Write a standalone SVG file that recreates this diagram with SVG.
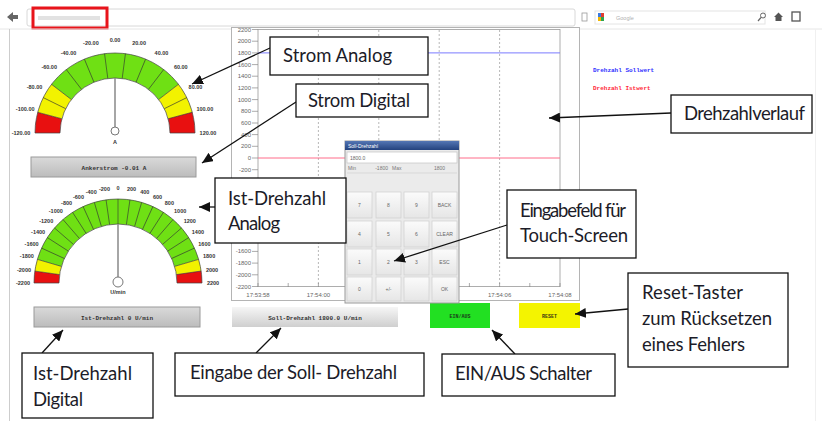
<svg xmlns="http://www.w3.org/2000/svg" width="822" height="421" viewBox="0 0 822 421">
<defs>
<style>
.cbox{fill:#fff;stroke:#111;stroke-width:1.3}
.ctxt{font-family:Lato,"Liberation Sans",sans-serif;font-size:18.5px;fill:#1c1c28}
.conn{stroke:#111;stroke-width:1.3;fill:none;marker-end:url(#ah)}
.glab{font-family:"Liberation Sans",Arial,sans-serif;font-size:5.5px;font-weight:bold;fill:#333;text-anchor:middle}
.div{stroke:#333;stroke-width:0.6}
.band{fill:none;stroke-width:25}
.gout{fill:none;stroke:#444;stroke-width:0.7}
.ylab{font-family:"Liberation Sans",Arial,sans-serif;font-size:6px;fill:#666;text-anchor:end}
.xlab{font-family:"Liberation Sans",Arial,sans-serif;font-size:6px;fill:#666;text-anchor:middle}
.mono{font-family:"Liberation Mono","DejaVu Sans Mono",monospace;font-size:6px;font-weight:bold;text-anchor:middle}
.key{fill:url(#kg);stroke:#cfcfcf;stroke-width:0.7}
.ktxt{font-family:"Liberation Sans",Arial,sans-serif;font-size:5px;fill:#666;text-anchor:middle}
.grid{stroke:#9a9a9a;stroke-width:0.7;stroke-dasharray:2,2}
</style>
<marker id="ah" markerUnits="userSpaceOnUse" markerWidth="12" markerHeight="10" refX="11" refY="5" orient="auto">
<path d="M0,0 L11,5 L0,10 z" fill="#111"/>
</marker>
<linearGradient id="dg" x1="0" y1="0" x2="0" y2="1"><stop offset="0" stop-color="#dadada"/><stop offset="1" stop-color="#bcbcbc"/></linearGradient>
<linearGradient id="sg" x1="0" y1="0" x2="0" y2="1"><stop offset="0" stop-color="#f6f6f6"/><stop offset="1" stop-color="#cfcfcf"/></linearGradient>
<linearGradient id="kg" x1="0" y1="0" x2="0" y2="1"><stop offset="0" stop-color="#fbfbfb"/><stop offset="1" stop-color="#e6e6e6"/></linearGradient>
<linearGradient id="tg" x1="0" y1="0" x2="0" y2="1"><stop offset="0" stop-color="#5476b4"/><stop offset="1" stop-color="#23427e"/></linearGradient>
</defs>
<rect width="822" height="421" fill="#fff"/>

<g id="browser">
<path d="M7,17 L13,12 L13,15 L18,15 L18,19 L13,19 L13,22 Z" fill="#666"/>
<rect x="27" y="9" width="548" height="17" rx="2" fill="#fff" stroke="#d8d8d8"/>
<rect x="38" y="16" width="62" height="4" fill="#e2e2e2"/>
<rect x="33" y="8" width="74" height="20" fill="none" stroke="#e8141b" stroke-width="3"/>
<rect x="582" y="13" width="5" height="8" fill="none" stroke="#999" stroke-width="0.8"/>
<rect x="595" y="11" width="170" height="13" fill="#fff" stroke="#e4e4e4"/>
<rect x="598" y="13" width="3" height="4" fill="#3b7be0"/>
<rect x="601" y="13" width="3" height="4" fill="#e23b2e"/>
<rect x="598" y="17" width="3" height="4" fill="#f2b600"/>
<rect x="601" y="17" width="3" height="4" fill="#2ea44f"/>
<text x="616" y="19.5" font-family="Liberation Sans,Arial,sans-serif" font-size="5.5" fill="#b0b0b0">Google</text>
<circle cx="763" cy="15.5" r="2.5" fill="none" stroke="#666" stroke-width="1"/>
<line x1="761" y1="17.5" x2="758" y2="21" stroke="#666" stroke-width="1.2"/>
<path d="M774,17 L778.5,12.5 L783,17 L781.5,17 L781.5,21 L775.5,21 L775.5,17 Z" fill="#555"/>
<rect x="792" y="12" width="8" height="9" fill="none" stroke="#555" stroke-width="1.3"/>
<line x1="0" y1="29" x2="822" y2="29" stroke="#e6e6e6"/>
<line x1="9.5" y1="29" x2="9.5" y2="421" stroke="#cdcdcd"/>
<line x1="815.5" y1="29" x2="815.5" y2="421" stroke="#f0f0f0"/>
</g>

<g id="chart">
<rect x="231.5" y="27.5" width="348" height="273" fill="#fff" stroke="#b4b4b4"/>
<rect x="258" y="29.5" width="302" height="257" fill="#fff" stroke="#9a9a9a" stroke-width="0.8"/>
<line class="grid" x1="318.4" y1="30" x2="318.4" y2="286"/>
<line class="grid" x1="378.8" y1="30" x2="378.8" y2="286"/>
<line class="grid" x1="439.2" y1="30" x2="439.2" y2="286"/>
<line class="grid" x1="499.6" y1="30" x2="499.6" y2="286"/>
<line x1="258" y1="52.9" x2="560" y2="52.9" stroke="#7b7bff" stroke-width="1"/>
<line x1="258" y1="158" x2="560" y2="158" stroke="#ff6c8a" stroke-width="1"/>
<g stroke="#888" stroke-width="0.7">
<path d="M252,29.5h6M252,41.2h6M252,52.9h6M252,64.6h6M252,76.2h6M252,87.9h6M252,99.6h6M252,111.3h6M252,123h6M252,134.6h6M252,146.3h6M252,158h6M252,169.7h6M252,251.4h6M252,263.1h6M252,274.8h6M252,286.5h6"/>
<path d="M258,283v4M288.2,283v4M318.4,283v4M348.6,283v4M469.4,283v4M499.6,283v4M529.8,283v4M560,283v4"/>
</g>
<text class="ylab" x="251" y="31.5">2200</text>
<text class="ylab" x="251" y="43.2">2000</text>
<text class="ylab" x="251" y="54.9">1800</text>
<text class="ylab" x="251" y="66.6">1600</text>
<text class="ylab" x="251" y="78.2">1400</text>
<text class="ylab" x="251" y="89.9">1200</text>
<text class="ylab" x="251" y="101.6">1000</text>
<text class="ylab" x="251" y="113.3">800</text>
<text class="ylab" x="251" y="125">600</text>
<text class="ylab" x="251" y="136.6">400</text>
<text class="ylab" x="251" y="148.3">200</text>
<text class="ylab" x="251" y="160">0</text>
<text class="ylab" x="251" y="171.7">-200</text>
<text class="ylab" x="251" y="253.4">-1600</text>
<text class="ylab" x="251" y="265.1">-1800</text>
<text class="ylab" x="251" y="276.8">-2000</text>
<text class="ylab" x="251" y="288.5">-2200</text>
<text class="xlab" x="258" y="297">17:53:58</text>
<text class="xlab" x="318.4" y="297">17:54:00</text>
<text class="xlab" x="499.6" y="297">17:54:06</text>
<text class="xlab" x="560" y="297">17:54:08</text>
<text x="593" y="72" class="mono" style="text-anchor:start;fill:#3030ff">Drehzahl Sollwert</text>
<text x="593" y="90" class="mono" style="text-anchor:start;fill:#ff2a3a">Drehzahl Istwert</text>
</g>

<g id="gauge-strom">
<path class="band" stroke="#e81010" d="M47.5,133 A67.5,67.5 0 0 1 49.8,115.53"/>
<path class="band" stroke="#f2f200" d="M49.8,115.53 A67.5,67.5 0 0 1 61.45,91.91"/>
<path class="band" stroke="#6fe014" d="M61.45,91.91 A67.5,67.5 0 0 1 168.55,91.91"/>
<path class="band" stroke="#f2f200" d="M168.55,91.91 A67.5,67.5 0 0 1 180.2,115.53"/>
<path class="band" stroke="#e81010" d="M180.2,115.53 A67.5,67.5 0 0 1 182.5,133"/>
<path class="gout" d="M35,133 A80,80 0 0 1 195,133 M60,133 A55,55 0 0 1 170,133 M35,133H60 M170,133H195"/>
<g class="div">
<line x1="35" y1="133" x2="60" y2="133" transform="rotate(15 115 133)"/>
<line x1="35" y1="133" x2="60" y2="133" transform="rotate(26.25 115 133)"/>
<line x1="35" y1="133" x2="60" y2="133" transform="rotate(37.5 115 133)"/>
<line x1="35" y1="133" x2="60" y2="133" transform="rotate(52.5 115 133)"/>
<line x1="35" y1="133" x2="60" y2="133" transform="rotate(67.5 115 133)"/>
<line x1="35" y1="133" x2="60" y2="133" transform="rotate(82.5 115 133)"/>
<line x1="35" y1="133" x2="60" y2="133" transform="rotate(97.5 115 133)"/>
<line x1="35" y1="133" x2="60" y2="133" transform="rotate(112.5 115 133)"/>
<line x1="35" y1="133" x2="60" y2="133" transform="rotate(127.5 115 133)"/>
<line x1="35" y1="133" x2="60" y2="133" transform="rotate(142.5 115 133)"/>
<line x1="35" y1="133" x2="60" y2="133" transform="rotate(153.75 115 133)"/>
<line x1="35" y1="133" x2="60" y2="133" transform="rotate(165 115 133)"/>
</g>
<line x1="115" y1="127" x2="115" y2="78" stroke="#888" stroke-width="1.5"/>
<circle cx="115" cy="131" r="4" fill="#fff" stroke="#777"/>
<text class="glab" x="115" y="144">A</text>
<text class="glab" x="21" y="135">-120.00</text>
<text class="glab" x="25.2" y="111">-100.00</text>
<text class="glab" x="34.5" y="88.5">-80.00</text>
<text class="glab" x="49.2" y="69.2">-60.00</text>
<text class="glab" x="68.5" y="54.5">-40.00</text>
<text class="glab" x="90.9" y="45.2">-20.00</text>
<text class="glab" x="115" y="42">0.00</text>
<text class="glab" x="139.1" y="45.2">20.00</text>
<text class="glab" x="161.5" y="54.5">40.00</text>
<text class="glab" x="180.8" y="69.2">60.00</text>
<text class="glab" x="195.5" y="88.5">80.00</text>
<text class="glab" x="204.8" y="111">100.00</text>
<text class="glab" x="208" y="135">120.00</text>
</g>

<g id="anzeige-strom">
<rect x="31" y="157" width="165" height="20" fill="url(#dg)" stroke="#9a9a9a"/>
<text class="mono" x="114" y="169.5" fill="#333">Ankerstrom -0.01 A</text>
</g>

<g id="gauge-drehzahl">
<path class="band" stroke="#e81010" d="M46.5,283 A71.5,71.5 0 0 1 47.23,272.82"/>
<path class="band" stroke="#f2f200" d="M47.23,272.82 A71.5,71.5 0 0 1 49.4,262.86"/>
<path class="band" stroke="#6fe014" d="M49.4,262.86 A71.5,71.5 0 0 1 186.6,262.86"/>
<path class="band" stroke="#f2f200" d="M186.6,262.86 A71.5,71.5 0 0 1 188.77,272.82"/>
<path class="band" stroke="#e81010" d="M188.77,272.82 A71.5,71.5 0 0 1 189.5,283"/>
<path class="gout" d="M34,283 A84,84 0 0 1 202,283 M59,283 A59,59 0 0 1 177,283 M34,283H59 M177,283H202"/>
<g class="div">
<line x1="34" y1="283" x2="59" y2="283" transform="rotate(8.18 118 283)"/>
<line x1="34" y1="283" x2="59" y2="283" transform="rotate(16.36 118 283)"/>
<line x1="34" y1="283" x2="59" y2="283" transform="rotate(24.55 118 283)"/>
<line x1="34" y1="283" x2="59" y2="283" transform="rotate(32.73 118 283)"/>
<line x1="34" y1="283" x2="59" y2="283" transform="rotate(40.91 118 283)"/>
<line x1="34" y1="283" x2="59" y2="283" transform="rotate(49.09 118 283)"/>
<line x1="34" y1="283" x2="59" y2="283" transform="rotate(57.27 118 283)"/>
<line x1="34" y1="283" x2="59" y2="283" transform="rotate(65.45 118 283)"/>
<line x1="34" y1="283" x2="59" y2="283" transform="rotate(73.64 118 283)"/>
<line x1="34" y1="283" x2="59" y2="283" transform="rotate(81.82 118 283)"/>
<line x1="34" y1="283" x2="59" y2="283" transform="rotate(90 118 283)"/>
<line x1="34" y1="283" x2="59" y2="283" transform="rotate(98.18 118 283)"/>
<line x1="34" y1="283" x2="59" y2="283" transform="rotate(106.36 118 283)"/>
<line x1="34" y1="283" x2="59" y2="283" transform="rotate(114.55 118 283)"/>
<line x1="34" y1="283" x2="59" y2="283" transform="rotate(122.73 118 283)"/>
<line x1="34" y1="283" x2="59" y2="283" transform="rotate(130.91 118 283)"/>
<line x1="34" y1="283" x2="59" y2="283" transform="rotate(139.09 118 283)"/>
<line x1="34" y1="283" x2="59" y2="283" transform="rotate(147.27 118 283)"/>
<line x1="34" y1="283" x2="59" y2="283" transform="rotate(155.45 118 283)"/>
<line x1="34" y1="283" x2="59" y2="283" transform="rotate(163.64 118 283)"/>
<line x1="34" y1="283" x2="59" y2="283" transform="rotate(171.82 118 283)"/>
</g>
<line x1="118" y1="277" x2="118" y2="224" stroke="#888" stroke-width="1.5"/>
<circle cx="118" cy="282" r="5" fill="#fff" stroke="#777"/>
<text class="glab" x="118" y="294">U/min</text>
<text class="glab" x="23" y="285">-2200</text>
<text class="glab" x="24" y="271.5">-2000</text>
<text class="glab" x="26.9" y="258.2">-1800</text>
<text class="glab" x="31.6" y="245.5">-1600</text>
<text class="glab" x="38.1" y="233.6">-1400</text>
<text class="glab" x="46.2" y="222.8">-1200</text>
<text class="glab" x="55.8" y="213.2">-1000</text>
<text class="glab" x="66.6" y="205.1">-800</text>
<text class="glab" x="78.5" y="198.6">-600</text>
<text class="glab" x="91.2" y="193.9">-400</text>
<text class="glab" x="104.5" y="191">-200</text>
<text class="glab" x="118" y="190">0</text>
<text class="glab" x="131.5" y="191">200</text>
<text class="glab" x="144.8" y="193.9">400</text>
<text class="glab" x="157.5" y="198.6">600</text>
<text class="glab" x="169.4" y="205.1">800</text>
<text class="glab" x="180.2" y="213.2">1000</text>
<text class="glab" x="189.8" y="222.8">1200</text>
<text class="glab" x="197.9" y="233.6">1400</text>
<text class="glab" x="204.4" y="245.5">1600</text>
<text class="glab" x="209.1" y="258.2">1800</text>
<text class="glab" x="212" y="271.5">2000</text>
<text class="glab" x="213" y="285">2200</text>
</g>

<g id="anzeige-drehzahl">
<rect x="34" y="307" width="166" height="20" fill="url(#dg)" stroke="#9a9a9a"/>
<text class="mono" x="117" y="319.5" fill="#333">Ist-Drehzahl 0 U/min</text>
</g>

<g id="eingabe-soll">
<rect x="232" y="307" width="166" height="20" fill="url(#sg)"/>
<text class="mono" x="315" y="319.5" fill="#333">Soll-Drehzahl 1800.0 U/min</text>
</g>

<g id="btn-einaus">
<rect x="430" y="303" width="60" height="25" fill="#22e022"/>
<text class="mono" x="460" y="317.5" fill="#1a3a1a" style="font-size:5px">EIN/AUS</text>
</g>

<g id="btn-reset">
<rect x="519" y="303" width="61" height="25" fill="#f4f400"/>
<text class="mono" x="549.5" y="317.5" fill="#3a3a10" style="font-size:5px">RESET</text>
</g>

<g id="keypad">
<rect x="345" y="141" width="114" height="162" fill="#ebebeb" stroke="#9a9a9a"/>
<rect x="345" y="141" width="114" height="9" fill="url(#tg)"/>
<text x="348" y="147.8" font-family="Liberation Sans,Arial,sans-serif" font-size="5" fill="#fff">Soll-Drehzahl</text>
<rect x="347" y="152" width="110" height="11" fill="#fff" stroke="#c4c4c4" stroke-width="0.7"/>
<text x="350" y="159.8" font-family="Liberation Sans,Arial,sans-serif" font-size="5" fill="#666">1800.0</text>
<text x="348" y="170" font-family="Liberation Sans,Arial,sans-serif" font-size="5" fill="#777">Min</text>
<text x="388" y="170" font-family="Liberation Sans,Arial,sans-serif" font-size="5" fill="#777" text-anchor="end">-1800</text>
<text x="392" y="170" font-family="Liberation Sans,Arial,sans-serif" font-size="5" fill="#777">Max</text>
<text x="445" y="170" font-family="Liberation Sans,Arial,sans-serif" font-size="5" fill="#777" text-anchor="end">1800</text>
<line x1="347" y1="173" x2="457" y2="173" stroke="#d0d0d0" stroke-width="0.7"/>
<rect x="347" y="192" width="25" height="26" class="key"/>
<rect x="376" y="192" width="25" height="26" class="key"/>
<rect x="404" y="192" width="25" height="26" class="key"/>
<rect x="432" y="192" width="25" height="26" class="key"/>
<rect x="347" y="221" width="25" height="26" class="key"/>
<rect x="376" y="221" width="25" height="26" class="key"/>
<rect x="404" y="221" width="25" height="26" class="key"/>
<rect x="432" y="221" width="25" height="26" class="key"/>
<rect x="347" y="249" width="25" height="26" class="key"/>
<rect x="376" y="249" width="25" height="26" class="key"/>
<rect x="404" y="249" width="25" height="26" class="key"/>
<rect x="432" y="249" width="25" height="26" class="key"/>
<rect x="347" y="277" width="25" height="24" class="key"/>
<rect x="376" y="277" width="25" height="24" class="key"/>
<rect x="404" y="277" width="25" height="24" class="key"/>
<rect x="432" y="277" width="25" height="24" class="key"/>
<text class="ktxt" x="359.5" y="207">7</text>
<text class="ktxt" x="388.5" y="207">8</text>
<text class="ktxt" x="416.5" y="207">9</text>
<text class="ktxt" x="444.5" y="207">BACK</text>
<text class="ktxt" x="359.5" y="236">4</text>
<text class="ktxt" x="388.5" y="236">5</text>
<text class="ktxt" x="416.5" y="236">6</text>
<text class="ktxt" x="444.5" y="236">CLEAR</text>
<text class="ktxt" x="359.5" y="264">1</text>
<text class="ktxt" x="388.5" y="264">2</text>
<text class="ktxt" x="416.5" y="264">3</text>
<text class="ktxt" x="444.5" y="264">ESC</text>
<text class="ktxt" x="359.5" y="291">0</text>
<text class="ktxt" x="388.5" y="291">+/-</text>
<text class="ktxt" x="444.5" y="291">OK</text>
</g>

<g id="connectors">
<line class="conn" x1="270" y1="48" x2="192" y2="84"/>
<line class="conn" x1="296" y1="102" x2="202" y2="163"/>
<line class="conn" x1="215" y1="207" x2="199" y2="207"/>
<line class="conn" x1="507" y1="225" x2="394" y2="261"/>
<line class="conn" x1="671" y1="113" x2="549" y2="118"/>
<line class="conn" x1="628" y1="309" x2="575" y2="314"/>
<line class="conn" x1="515" y1="354" x2="492" y2="330"/>
<line class="conn" x1="256" y1="353" x2="281" y2="328"/>
<line class="conn" x1="42" y1="353" x2="63" y2="330"/>
</g>

<g id="callout-strom-analog">
<rect class="cbox" x="270" y="37" width="158" height="38"/>
<text class="ctxt" x="283" y="62" textLength="109">Strom Analog</text>
</g>
<g id="callout-strom-digital">
<rect class="cbox" x="296" y="84" width="132" height="33"/>
<text class="ctxt" x="308" y="107" textLength="102">Strom Digital</text>
</g>
<g id="callout-ist-analog">
<rect class="cbox" x="215" y="178" width="131" height="65"/>
<text class="ctxt" x="228" y="205" textLength="98">Ist-Drehzahl</text>
<text class="ctxt" x="228" y="230" textLength="52">Analog</text>
</g>
<g id="callout-eingabefeld">
<rect class="cbox" x="507" y="190" width="129" height="68"/>
<text class="ctxt" x="520" y="217" textLength="106">Eingabefeld für</text>
<text class="ctxt" x="520" y="242" textLength="108">Touch-Screen</text>
</g>
<g id="callout-drehzahlverlauf">
<rect class="cbox" x="671" y="95" width="141" height="38"/>
<text class="ctxt" x="684" y="120" textLength="121">Drehzahlverlauf</text>
</g>
<g id="callout-reset">
<rect class="cbox" x="628" y="273" width="160" height="94"/>
<text class="ctxt" x="642" y="299" textLength="101">Reset-Taster</text>
<text class="ctxt" x="642" y="325" textLength="130">zum Rücksetzen</text>
<text class="ctxt" x="642" y="351" textLength="103">eines Fehlers</text>
</g>
<g id="callout-einaus">
<rect class="cbox" x="442" y="354" width="173" height="42"/>
<text class="ctxt" x="455" y="380" textLength="137">EIN/AUS Schalter</text>
</g>
<g id="callout-eingabe-soll">
<rect class="cbox" x="175" y="353" width="249" height="43"/>
<text class="ctxt" x="190" y="379" textLength="207">Eingabe der Soll- Drehzahl</text>
</g>
<g id="callout-ist-digital">
<rect class="cbox" x="22" y="353" width="131" height="65"/>
<text class="ctxt" x="33" y="380" textLength="99">Ist-Drehzahl</text>
<text class="ctxt" x="33" y="406" textLength="50">Digital</text>
</g>
</svg>
